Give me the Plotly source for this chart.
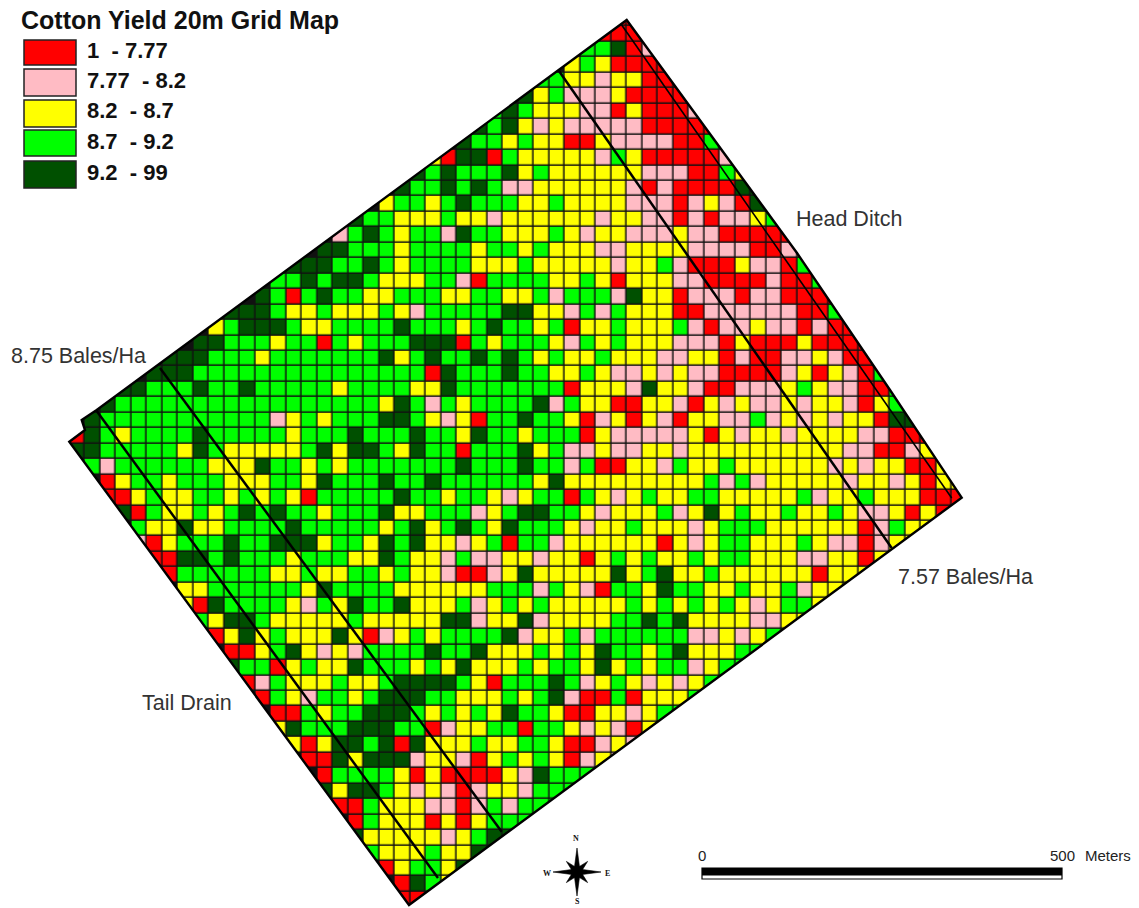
import math
import plotly.graph_objects as go

CLASS_LABELS = ["1 - 7.77", "7.77 - 8.2", "8.2 - 8.7", "8.7 - 9.2", "9.2 - 99"]
CLASS_COLORS = ["#FF0000", "#FFBBC4", "#FFFF00", "#00FF00", "#005000"]
CLASS_CODES = {"r": 1, "p": 2, "y": 3, "g": 4, "d": 5}

# first occupied column of each grid row
ROW_START = [35, 34, 33, 32, 30, 29, 27, 26, 25, 23, 22, 21, 20, 18, 17, 16, 14, 13, 12, 10,
             9, 8, 6, 5, 3, 2, 1, 0, 0, 1, 2, 2, 3, 4, 4, 5, 6, 7, 7, 8,
             9, 10, 10, 11, 12, 13, 13, 14, 15, 16, 16, 17, 18, 18, 19, 20, 21, 21]
# yield class of each 20 m cell, read row by row
ROW_CELLS = [
    "rr", "rrrr", "ggdrpr", "ygyrrrr", "ggyypyyrrr", "dygpppyrrrrr", "gdgyyyppryrrrpr",
    "dgdypyppppprrrrr", "dggygyyrrypppprrgr", "yrddrgyyyyypgyrrrrrpp",
    "dgdgggdygyyyyyyppprrgyp", "dggdgdgppyyyyyyprprrrrdd", "yggygdgggyygyyyyppprpyprdg",
    "dggyyygyypyyyyyypyypprprppygg", "pgdgyggpdggyyygypyypppypprrrrr",
    "ddgggyggggyggygyyyppyyyypppprrpy", "dddggdgyggggyyygyyyyypyygprrrypprgg",
    "ggdgddgyyyggprggggyygyryyypprrrrprrg", "dgrgdggyygggyyggyygpgggpdyyrppprpprrrr",
    "dddgyygyyygypgggggddyypgpgyyyrrpppppprrg", "ygdddgyyggggdgggygdggygryygyyygprppypprprr",
    "ddgggyggrgygggdddrgygggypgygyyypppryrrryrrrr", "dddgggygggggggdygdggdgdgygyygyyyppyyrprrppyprr",
    "dddgggggggggggggggrdgggdggyygyppypypprrrrpyryprg", "ddgggdggdgggggyggggyydgggggggryyypdyyprrpppygypprrg",
    "dgggggggggggggggggydgpgyggggdpgyyrryyprypyppypyypryg",
    "dgggggggggggpygygggddgypyrggdggyrpyrypryyppgpypypyyrdd",
    "rdgyggggdgggggygggdgggdggydggygggrypppppyrypyypyyyypprrr",
    "ddgggggydgyyyyygdyddgydggrgggdygppyppyypyyyyyyyyyypprrpyy",
    "gpggggggyyydggygygggggggdgggdggpgrryypgyygyyyyyypypyyrry",
    "ryggygggyyyggydgggdggdggggggydyyyyyyyyygpgpyyyyypyypyryy",
    "rrygyyggygygyrgggggdggyggypyggrgypygyyggyyyyygpyygyyyrrr",
    "drgyygygdgdggygggdyygggpygddggypyyygpydygyygyygyppyryrr",
    "gyydyyggggdgggggygdygdgydgggypyygyyypygggyyyyyyrpgyy",
    "prygggdggdddyggydgdyypygrggpyyyyyyrypyggyyygypprpyy",
    "rrddgdgggygggyydgyypgppyypyyrygygyygyggyyyppyyryy",
    "rggggggyygyyggygyyprrpydyyyyydygdyygyyyyyyryyy",
    "yyggggggydggggyyyyyygggpgyprggydggyygyygpyyy",
    "yrdggggypgydggdyyygpygygyyyyygygygygypyggy",
    "gyddgyyyyygyyyyyddpyydpyyyyggdgdyyyyppyy",
    "rydygyyydyrpygyggggdpyygpggggggppypygg",
    "rrygdypypggggdggdyyygygydggygdyyygg",
    "dggrygyydgggygydyyygyggydygyggpygg",
    "rpgyyygyygddddgyrgggdgpygypypygg",
    "rgypggygdddggyyygygdprrgryyyg",
    "rrgyggdddgygygydggyrryypygg",
    "ydgggdddggrpyyggrggypypryy",
    "yryddgdrdyyygyyggyrrpyp",
    "rrdydddpyyprygygyrpyp",
    "rggggyryrrrrypdggg",
    "dyddgypyprpyypggg",
    "rrgyyypprpgpggg",
    "rgyyyryryggg",
    "dyyyyypygdd",
    "gyyygyydg",
    "ryggyd",
    "rdgy",
    "rrg",
]

N_COLS = 58
N_ROWS = 58
z = [[None] * N_COLS for _ in range(N_ROWS)]
for r, (start, cells) in enumerate(zip(ROW_START, ROW_CELLS)):
    for k, ch in enumerate(cells):
        if start + k < N_COLS:
            z[r][start + k] = CLASS_CODES[ch]

CELL_W, CELL_H = 15.48, 15.455
GRID_X0, GRID_Y0 = 69.6, 10.8

scale = []
for i, c in enumerate(CLASS_COLORS):
    scale += [[i / 5, c], [(i + 1) / 5, c]]

fig = go.Figure(go.Heatmap(
    z=z, x0=GRID_X0 + CELL_W / 2, dx=CELL_W, y0=GRID_Y0 + CELL_H / 2, dy=CELL_H,
    zmin=0.5, zmax=5.5, colorscale=scale, showscale=False, xgap=1.5, ygap=1.5,
    hoverinfo="skip", hoverongaps=False))

FIELD = [(69.3, 441.7), (85, 430), (81.7, 420), (96.7, 410), (626.7, 20),
         (797, 253), (890, 390), (961.7, 497.7), (409, 905)]
BAND_LINES = [((96.7, 411), (438, 878)), ((160, 368), (501.7, 831.7)),
              ((558.3, 70), (891.7, 548)), ((621.7, 25), (951.7, 498))]
BAND_WIDTHS = [2.5, 2.5, 2.5, 1.6]


def poly(pts):
    return "M" + " L".join(f"{x} {y}" for x, y in pts) + " Z"


shapes = [
    dict(type="path", xref="x", yref="y", layer="above",
         path="M0 0 L1139 0 L1139 908 L0 908 Z " + poly(FIELD),
         fillcolor="white", line=dict(width=0), fillrule="evenodd"),
    dict(type="path", xref="x", yref="y", layer="above", path=poly(FIELD),
         line=dict(color="black", width=2.4)),
]
for (a, b), w in zip(BAND_LINES, BAND_WIDTHS):
    shapes.append(dict(type="line", xref="x", yref="y", layer="above", x0=a[0], y0=a[1], x1=b[0], y1=b[1],
                       line=dict(color="black", width=w)))

LEGEND_TOPS = [40, 69, 100, 130, 161]
LEGEND_BOTTOMS = [65, 96, 127, 156, 188]
for top, bot, c in zip(LEGEND_TOPS, LEGEND_BOTTOMS, CLASS_COLORS):
    shapes.append(dict(type="rect", xref="x", yref="y", layer="above", x0=24, x1=76, y0=top, y1=bot,
                       fillcolor=c, line=dict(color="#222222", width=1.5)))

# scale bar
shapes.append(dict(type="rect", xref="x", yref="y", layer="above", x0=702, x1=1062, y0=868, y1=879,
                   fillcolor="white", line=dict(color="black", width=1.2)))
shapes.append(dict(type="rect", xref="x", yref="y", layer="above", x0=702, x1=1062, y0=868, y1=875.5,
                   fillcolor="black", line=dict(width=0)))

# compass star
CX, CY = 577, 872
for deg, r_out, r_in in [(a, 24, 3.2) for a in (0, 90, 180, 270)] + [(a, 15, 3.5) for a in (45, 135, 225, 315)]:
    t = math.radians(deg)
    tip = (CX + r_out * math.sin(t), CY - r_out * math.cos(t))
    left = (CX + r_in * math.cos(t), CY + r_in * math.sin(t))
    right = (CX - r_in * math.cos(t), CY - r_in * math.sin(t))
    shapes.append(dict(type="path", xref="x", yref="y", layer="above", path=poly([tip, left, right]),
                       fillcolor="black", line=dict(color="black", width=0.6)))

ann = []


def text(x, y, s, size, color="#222222", bold=False, anchor="left", family="Liberation Sans"):
    ann.append(dict(x=x, y=y, xref="x", yref="y", text=f"<b>{s}</b>" if bold else s, showarrow=False,
                    xanchor=anchor, yanchor="middle", font=dict(size=size, color=color, family=family)))


text(19, 20, "Cotton Yield 20m Grid Map", 25, "#111111", True)
LEGEND_TEXT_Y = [50, 80, 110, 141, 172]
for y, s in zip(LEGEND_TEXT_Y, CLASS_LABELS):
    text(85, y, s.replace(" - ", "  - "), 22, "#111111", True)
text(794, 219, "Head Ditch", 21.5, "#333333")
text(9, 356, "8.75 Bales/Ha", 21.5, "#333333")
text(896, 577, "7.57 Bales/Ha", 21.5, "#333333")
text(140, 703, "Tail Drain", 21.5, "#333333")
text(696, 855, "0", 15, "#222222")
text(1048, 855, "500", 15, "#222222")
text(1083, 855, "Meters", 15, "#222222")
for x, y, s in [(576, 838, "N"), (577, 901, "S"), (547, 873, "W"), (607, 873, "E")]:
    text(x, y, s, 8, "#111111", True, "center", "Liberation Serif")

fig.update_layout(
    width=1139, height=908, autosize=False, margin=dict(l=0, r=0, t=0, b=0),
    paper_bgcolor="white", plot_bgcolor="#111111", showlegend=False,
    xaxis=dict(range=[0, 1139], visible=False, fixedrange=True),
    yaxis=dict(range=[908, 0], visible=False, fixedrange=True),
    shapes=shapes, annotations=ann)

fig.write_html("out.html", config={"displayModeBar": False},
               post_script="document.body.style.margin='0';document.body.style.overflow='hidden';")
